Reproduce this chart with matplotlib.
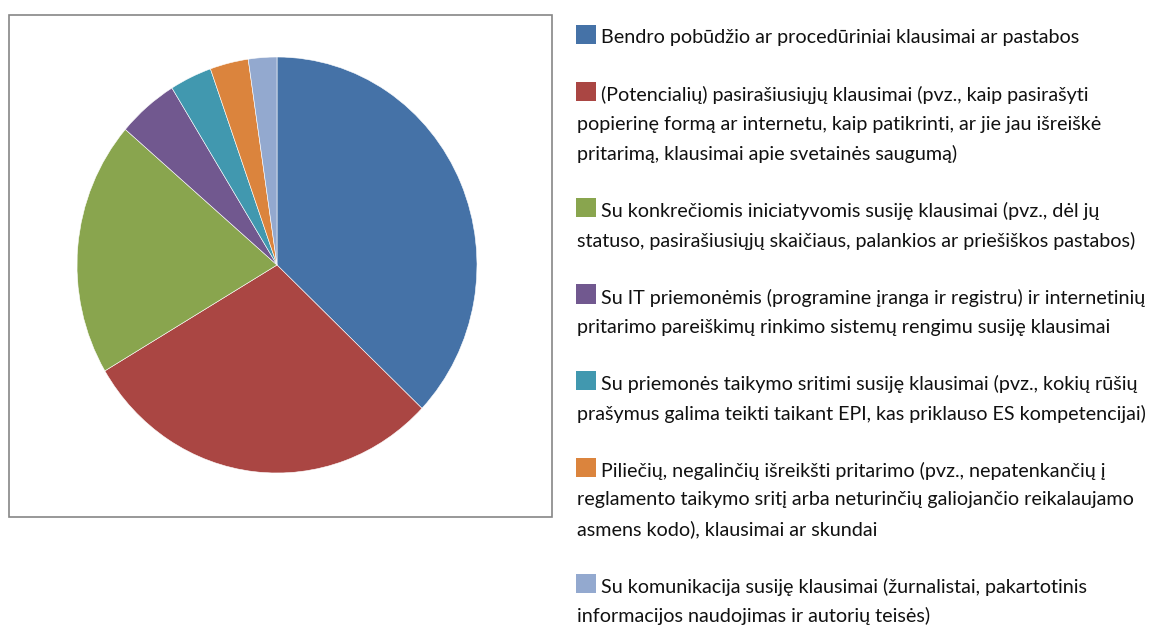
import matplotlib.pyplot as plt
from matplotlib.patches import Rectangle

### Data (shares in %)
labels = [
    "Bendro pobūdžio ar procedūriniai klausimai ar pastabos",
    "(Potencialių) pasirašiusiųjų klausimai (pvz., kaip pasirašyti\n"
    "popierinę formą ar internetu, kaip patikrinti, ar jie jau išreiškė\n"
    "pritarimą, klausimai apie svetainės saugumą)",
    "Su konkrečiomis iniciatyvomis susiję klausimai (pvz., dėl jų\n"
    "statuso, pasirašiusiųjų skaičiaus, palankios ar priešiškos pastabos)",
    "Su IT priemonėmis (programine įranga ir registru) ir internetinių\n"
    "pritarimo pareiškimų rinkimo sistemų rengimu susiję klausimai",
    "Su priemonės taikymo sritimi susiję klausimai (pvz., kokių rūšių\n"
    "prašymus galima teikti taikant EPI, kas priklauso ES kompetencijai)",
    "Piliečių, negalinčių išreikšti pritarimo (pvz., nepatenkančių į\n"
    "reglamento taikymo sritį arba neturinčių galiojančio reikalaujamo\n"
    "asmens kodo), klausimai ar skundai",
    "Su komunikacija susiję klausimai (žurnalistai, pakartotinis\n"
    "informacijos naudojimas ir autorių teisės)",
]
values = [37.1, 29.4, 19.8, 4.9, 3.4, 3.1, 2.3]
colors = ["#4572A7", "#AA4643", "#89A54E", "#71588F", "#4198AF", "#DB843D", "#93A9CF"]

W, H = 1156, 628
fig = plt.figure(figsize=(W / 100, H / 100), dpi=100)

def fx(px):
    return px / W

def fy(py):
    return 1 - py / H

### Frame around the pie
fig.patches.append(Rectangle((fx(9), fy(517)), fx(552) - fx(9), fy(15) - fy(517),
                             transform=fig.transFigure, fill=False,
                             edgecolor="#868686", linewidth=1.2))

### Pie (a touch taller than wide, like the original)
ax = fig.add_axes([fx(77), fy(473), fx(477) - fx(77), fy(57) - fy(473)])
ax.pie(values, colors=colors, startangle=90, counterclock=False,
       wedgeprops=dict(edgecolor="white", linewidth=0.4))
ax.set_aspect("auto")
ax.set_xlim(-1, 1)
ax.set_ylim(-1, 1)
ax.axis("off")

### Legend drawn by hand
y = 38
for lab, col in zip(labels, colors):
    lines = lab.split("\n")
    fig.patches.append(Rectangle((fx(576), fy(y + 6)), fx(20), 19 / H,
                                 transform=fig.transFigure, facecolor=col,
                                 edgecolor="none"))
    for k, line in enumerate(lines):
        x0 = 601 if k == 0 else 577
        fig.text(fx(x0), fy(y + k * 29.5), line, fontsize=14.2, family="Lato",
                 color="#111111", va="center")
    y = y + (len(lines) - 1) * 29.5 + 57

fig.savefig("out.png", dpi=100)
